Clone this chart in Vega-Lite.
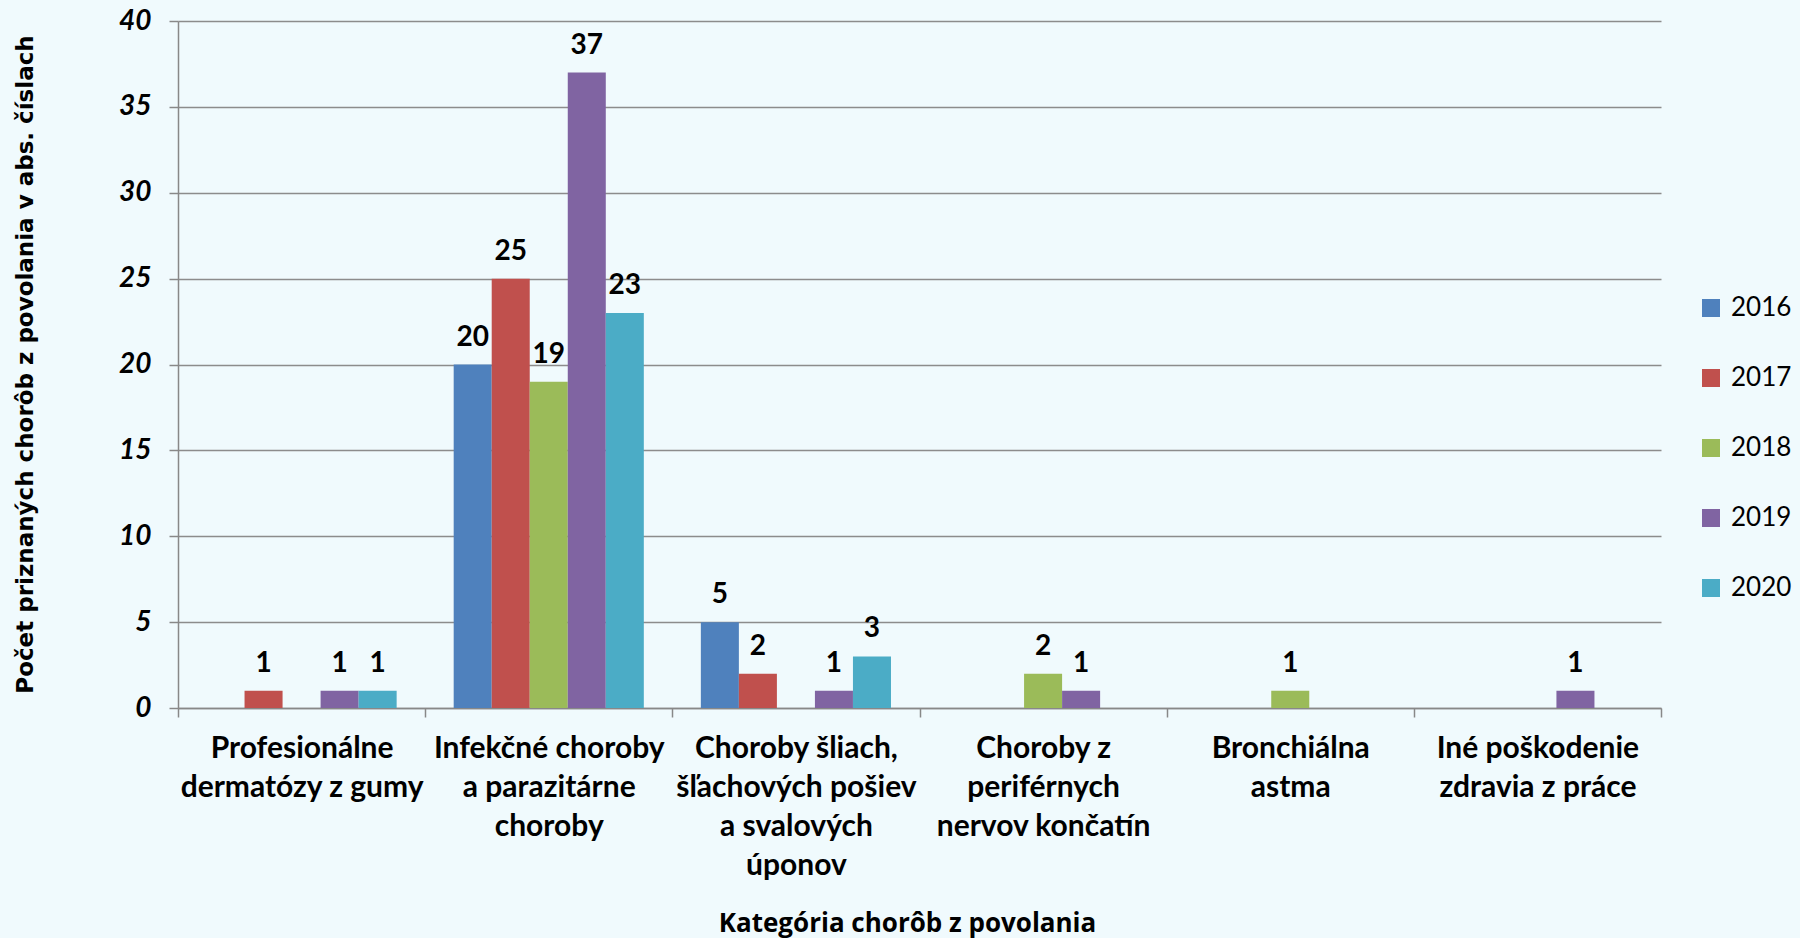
{
  "$schema": "https://vega.github.io/schema/vega-lite/v6.json",
  "width": 1483,
  "height": 687,
  "autosize": "none",
  "padding": {"left": 178, "top": 21, "right": 139, "bottom": 230},
  "background": "#f0fafd",
  "config": {"view": {"stroke": null}},
  "data": {
    "values": [
      {"kategoria": "Profesionálne\ndermatózy z gumy", "rok": "2017", "pocet": 1},
      {"kategoria": "Profesionálne\ndermatózy z gumy", "rok": "2019", "pocet": 1},
      {"kategoria": "Profesionálne\ndermatózy z gumy", "rok": "2020", "pocet": 1},
      {"kategoria": "Infekčné choroby\na parazitárne\nchoroby", "rok": "2016", "pocet": 20},
      {"kategoria": "Infekčné choroby\na parazitárne\nchoroby", "rok": "2017", "pocet": 25},
      {"kategoria": "Infekčné choroby\na parazitárne\nchoroby", "rok": "2018", "pocet": 19},
      {"kategoria": "Infekčné choroby\na parazitárne\nchoroby", "rok": "2019", "pocet": 37},
      {"kategoria": "Infekčné choroby\na parazitárne\nchoroby", "rok": "2020", "pocet": 23},
      {"kategoria": "Choroby šliach,\nšľachových pošiev\na svalových\núponov", "rok": "2016", "pocet": 5},
      {"kategoria": "Choroby šliach,\nšľachových pošiev\na svalových\núponov", "rok": "2017", "pocet": 2},
      {"kategoria": "Choroby šliach,\nšľachových pošiev\na svalových\núponov", "rok": "2019", "pocet": 1},
      {"kategoria": "Choroby šliach,\nšľachových pošiev\na svalových\núponov", "rok": "2020", "pocet": 3},
      {"kategoria": "Choroby z\nperiférnych\nnervov končatín", "rok": "2018", "pocet": 2},
      {"kategoria": "Choroby z\nperiférnych\nnervov končatín", "rok": "2019", "pocet": 1},
      {"kategoria": "Bronchiálna\nastma", "rok": "2018", "pocet": 1},
      {"kategoria": "Iné poškodenie\nzdravia z práce", "rok": "2019", "pocet": 1}
    ]
  },
  "encoding": {
    "x": {
      "field": "kategoria",
      "type": "nominal",
      "sort": null,
      "title": "Kategória chorôb z povolania",
      "scale": {
        "domain": [
          "Profesionálne\ndermatózy z gumy",
          "Infekčné choroby\na parazitárne\nchoroby",
          "Choroby šliach,\nšľachových pošiev\na svalových\núponov",
          "Choroby z\nperiférnych\nnervov končatín",
          "Bronchiálna\nastma",
          "Iné poškodenie\nzdravia z práce"
        ],
        "paddingInner": 0,
        "paddingOuter": 0
      },
      "axis": {
        "labelExpr": "split(datum.label, '\\n')",
        "labelAngle": 0,
        "labelFont": "Lato",
        "labelFontWeight": "bold",
        "labelFontSize": 30,
        "labelColor": "#000000",
        "labelLineHeight": 39,
        "labelBaseline": "top",
        "labelPadding": 16,
        "labelLimit": 0,
        "tickBand": "extent",
        "tickSize": 9,
        "tickColor": "#888888",
        "tickWidth": 1.5,
        "domainColor": "#888888",
        "domainWidth": 1.5,
        "grid": false,
        "titleFont": "Open Sans",
        "titleFontWeight": "bold",
        "titleFontSize": 26,
        "titleColor": "#000000",
        "titleX": 729,
        "titleY": 215,
        "titleBaseline": "middle",
        "titleAlign": "center"
      }
    },
    "xOffset": {
      "field": "rok",
      "type": "nominal",
      "scale": {"domain": ["2016", "2017", "2018", "2019", "2020"], "paddingInner": 0, "paddingOuter": 0.75}
    },
    "y": {
      "field": "pocet",
      "type": "quantitative",
      "title": "Počet priznaných chorôb z povolania v abs. číslach",
      "scale": {"domain": [0, 40], "nice": false},
      "axis": {
        "values": [0, 5, 10, 15, 20, 25, 30, 35, 40],
        "labelFont": "Lato",
        "labelFontWeight": "bold",
        "labelFontStyle": "italic",
        "labelFontSize": 28,
        "labelColor": "#000000",
        "labelPadding": 18,
        "tickSize": 9,
        "tickColor": "#888888",
        "tickWidth": 1.5,
        "domainColor": "#888888",
        "domainWidth": 1.5,
        "grid": true,
        "gridColor": "#8c8c8c",
        "gridWidth": 1.5,
        "titleFont": "DejaVu Sans",
        "titleFontWeight": "bold",
        "titleFontSize": 23,
        "titleColor": "#000000",
        "titleX": -153,
        "titleY": 343,
        "titleAngle": 270,
        "titleBaseline": "middle",
        "titleAlign": "center"
      }
    }
  },
  "layer": [
    {
      "mark": {"type": "bar"},
      "encoding": {
        "color": {
          "field": "rok",
          "type": "nominal",
          "scale": {
            "domain": ["2016", "2017", "2018", "2019", "2020"],
            "range": ["#4F81BD", "#C0504D", "#9BBB59", "#8064A2", "#4BACC6"]
          },
          "legend": {
            "title": null,
            "orient": "none",
            "legendX": 1520,
            "legendY": 274,
            "padding": 0,
            "symbolType": "square",
            "symbolSize": 324,
            "symbolStrokeWidth": 0,
            "labelFont": "Lato",
            "labelFontSize": 26,
            "labelColor": "#000000",
            "labelOffset": 7,
            "rowPadding": 44
          }
        }
      }
    },
    {
      "mark": {"type": "text", "font": "Lato", "fontWeight": "bold", "fontSize": 28, "color": "#000000", "baseline": "bottom", "dy": -13},
      "encoding": {"text": {"field": "pocet", "type": "quantitative"}}
    }
  ]
}
